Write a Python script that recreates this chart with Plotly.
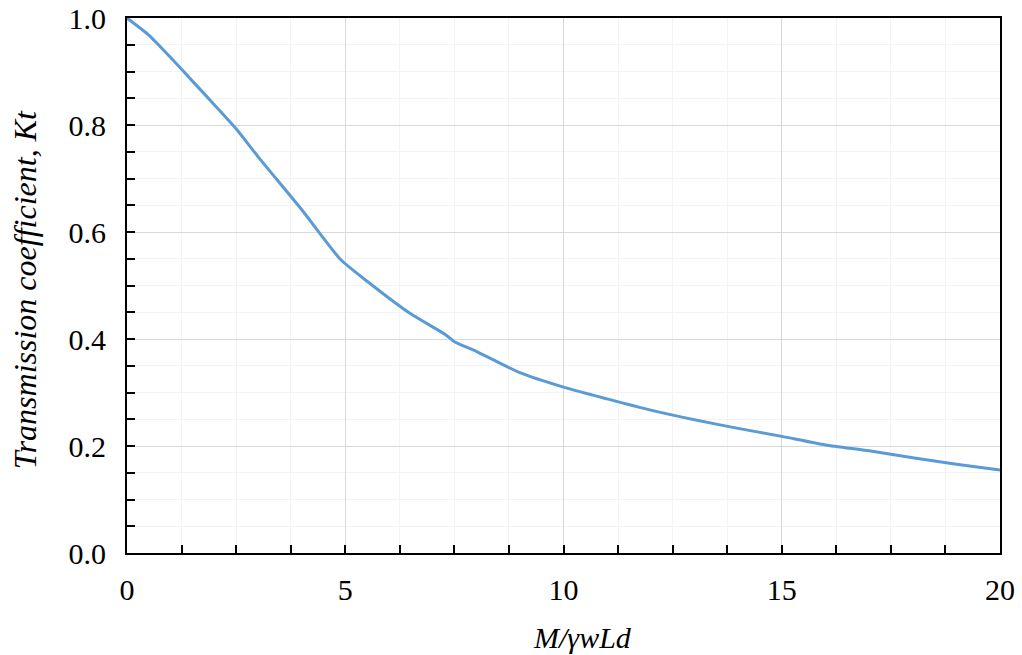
import plotly.graph_objects as go

# Transmission coefficient Kt versus relative mass M/γwLd
mass_ratio = [0, 0.5, 1, 1.5, 2, 2.5, 3, 4, 4.9, 5.5, 6.5, 7.3, 7.5, 8, 9,
              10, 11, 12, 13, 14, 15, 16, 17, 18, 19, 20]
kt = [1.0, 0.968, 0.926, 0.882, 0.838, 0.793, 0.741, 0.642, 0.548, 0.508,
      0.447, 0.408, 0.395, 0.377, 0.337, 0.310, 0.288, 0.267, 0.249, 0.233,
      0.218, 0.202, 0.191, 0.178, 0.166, 0.155]

x_ticks = [0, 5, 10, 15, 20]
y_ticks = [0.0, 0.2, 0.4, 0.6, 0.8, 1.0]

x_title = "<i>M/γwLd</i>"
y_title = "<i>Transmission coefficient, Kt</i>"

font_family = "Liberation Serif"
font_size = 30

fig = go.Figure(
    go.Scatter(
        x=mass_ratio,
        y=kt,
        mode="lines",
        line=dict(color="#5B9BD5", width=3, shape="spline", smoothing=0.6),
        showlegend=False,
    )
)

axis_common = dict(
    showline=True,
    linecolor="black",
    linewidth=2,
    mirror=True,
    ticks="inside",
    ticklen=8,
    tickwidth=2,
    tickcolor="black",
    showgrid=True,
    gridcolor="#d9d9d9",
    gridwidth=1,
    zeroline=False,
    automargin=False,
    tickfont=dict(family=font_family, size=font_size, color="black"),
)

fig.update_xaxes(
    **axis_common,
    range=[0, 20],
    tickvals=x_ticks,
    ticktext=[str(v) for v in x_ticks],
    ticklabelstandoff=9,
    minor=dict(dtick=1.25, tick0=0, ticks="inside", ticklen=8, tickwidth=2,
               tickcolor="black", showgrid=True, gridcolor="#f3f3f3"),
)

fig.update_yaxes(
    **axis_common,
    range=[0, 1.0],
    tickvals=y_ticks,
    ticktext=[f"{v:.1f}" for v in y_ticks],
    ticklabelstandoff=13,
    minor=dict(dtick=0.05, tick0=0, ticks="inside", ticklen=8, tickwidth=2,
               tickcolor="black", showgrid=True, gridcolor="#f3f3f3"),
)

# Axis titles placed as paper-anchored annotations
fig.add_annotation(
    text=x_title, xref="paper", yref="paper", x=0.522, y=-0.158,
    xanchor="center", yanchor="middle", showarrow=False,
    font=dict(family=font_family, size=font_size, color="black"),
)
fig.add_annotation(
    text=y_title, xref="paper", yref="paper", x=-0.117, y=0.4925,
    xanchor="center", yanchor="middle", showarrow=False, textangle=-90,
    font=dict(family=font_family, size=32, color="black"),
)

fig.update_layout(
    width=1022,
    height=655,
    margin=dict(l=127, r=22, t=18, b=102),
    plot_bgcolor="white",
    paper_bgcolor="white",
    font=dict(family=font_family, size=font_size, color="black"),
)

fig.write_html("out.html")
